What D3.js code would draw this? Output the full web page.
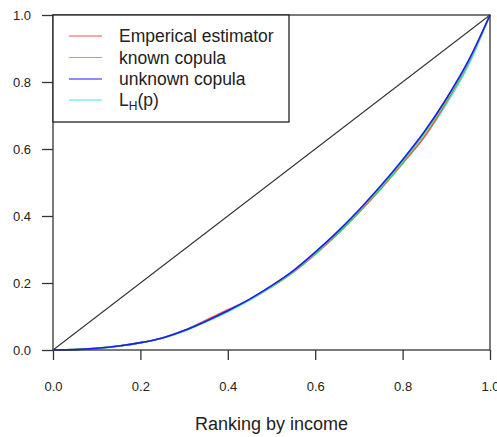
<!DOCTYPE html>
<html>
<head>
<meta charset="utf-8">
<script src="https://cdn.jsdelivr.net/npm/d3@7"></script>
<style>
  body { margin: 0; background: #fff; }
  text { font-family: "Liberation Sans", Arial, sans-serif; fill: #222; }
</style>
</head>
<body>
<div id="chart"></div>
<script>
'use strict';

// ranking points (x axis)
const ranks = [0, 0.05, 0.1, 0.15, 0.2, 0.25, 0.3, 0.35, 0.4, 0.45, 0.5,
               0.55, 0.6, 0.65, 0.7, 0.75, 0.8, 0.85, 0.9, 0.95, 1];

// curves
const unknownCopula = [0, 0.001, 0.005, 0.012, 0.022, 0.036, 0.058, 0.086, 0.117, 0.152, 0.192,
                       0.237, 0.292, 0.352, 0.418, 0.490, 0.568, 0.652, 0.750, 0.862, 1];
const empirical = [0, 0.001, 0.005, 0.012, 0.022, 0.036, 0.058, 0.089, 0.120, 0.151, 0.189,
                   0.233, 0.287, 0.346, 0.411, 0.482, 0.558, 0.637, 0.740, 0.856, 1];
const knownCopula = [0, 0.001, 0.005, 0.012, 0.022, 0.036, 0.058, 0.086, 0.116, 0.151, 0.190,
                     0.235, 0.289, 0.349, 0.414, 0.485, 0.562, 0.646, 0.745, 0.859, 1];
const lhp = [0, 0.001, 0.004, 0.011, 0.021, 0.035, 0.056, 0.084, 0.114, 0.149, 0.188,
             0.232, 0.285, 0.344, 0.410, 0.480, 0.556, 0.636, 0.734, 0.848, 1];

const xTicks = [0, 0.2, 0.4, 0.6, 0.8, 1.0];
const yTicks = [0, 0.2, 0.4, 0.6, 0.8, 1.0];

const seriesNames = ['Emperical estimator', 'known copula', 'unknown copula', 'L_H(p)'];
const seriesColors = ['#ff5050', '#40f040', '#1a1aff', '#40e8e8'];
const seriesValues = [empirical, knownCopula, unknownCopula, lhp];

const W = 497, H = 437;
const plot = {left: 53, right: 490, top: 15, bottom: 350};

const svg = d3.select('#chart').append('svg')
    .attr('width', W)
    .attr('height', H);

const x = d3.scaleLinear().domain([0, 1]).range([plot.left, plot.right]);
const y = d3.scaleLinear().domain([0, 1]).range([plot.bottom, plot.top]);

// axes
const xAxis = svg.append('g')
    .attr('transform', 'translate(0,' + plot.bottom + ')')
    .call(d3.axisBottom(x).tickValues(xTicks).tickFormat(d3.format('.1f')).tickSize(10).tickPadding(22));
const yAxis = svg.append('g')
    .attr('transform', 'translate(' + plot.left + ',0)')
    .call(d3.axisLeft(y).tickValues(yTicks).tickFormat(d3.format('.1f')).tickSize(11).tickPadding(11));

[xAxis, yAxis].forEach(g => {
    g.select('.domain').remove();
    g.selectAll('line').attr('stroke', '#333').attr('stroke-width', 1.3);
    g.selectAll('text').style('font-size', '13px').attr('fill', '#222');
});

// diagonal
svg.append('line')
    .attr('x1', x(0)).attr('y1', y(0))
    .attr('x2', x(1)).attr('y2', y(1))
    .attr('stroke', '#333')
    .attr('stroke-width', 1.1);

// curves
const line = d3.line()
    .x((d, i) => x(ranks[i]))
    .y(d => y(d))
    .curve(d3.curveMonotoneX);

[3, 0, 1, 2].forEach(k => {
    svg.append('path')
        .datum(seriesValues[k])
        .attr('d', line)
        .attr('fill', 'none')
        .attr('stroke', seriesColors[k])
        .attr('stroke-width', 1.6);
});

// frame
svg.append('rect')
    .attr('x', plot.left).attr('y', plot.top)
    .attr('width', plot.right - plot.left).attr('height', plot.bottom - plot.top)
    .attr('fill', 'none')
    .attr('stroke', '#333')
    .attr('stroke-width', 1.3);

// legend
const legend = svg.append('g');
legend.append('rect')
    .attr('x', plot.left).attr('y', plot.top)
    .attr('width', 289 - plot.left).attr('height', 122 - plot.top)
    .attr('fill', '#fff')
    .attr('stroke', '#222')
    .attr('stroke-width', 1.3);

const rowY = [36, 57.5, 79, 100];
seriesNames.forEach((name, i) => {
    legend.append('line')
        .attr('x1', 69).attr('x2', 102)
        .attr('y1', rowY[i]).attr('y2', rowY[i])
        .attr('stroke', seriesColors[i])
        .attr('stroke-width', 1.2);
    const t = legend.append('text')
        .attr('x', 119).attr('y', rowY[i] + 6)
        .style('font-size', '17.5px');
    if (name === 'L_H(p)') {
        t.append('tspan').text('L');
        t.append('tspan').attr('dy', 4).style('font-size', '12px').text('H');
        t.append('tspan').attr('dy', -4).text('(p)');
    } else {
        t.text(name);
    }
});

// axis title
svg.append('text')
    .attr('x', (plot.left + plot.right) / 2)
    .attr('y', 430)
    .attr('text-anchor', 'middle')
    .style('font-size', '18px')
    .text('Ranking by income');
</script>
</body>
</html>
